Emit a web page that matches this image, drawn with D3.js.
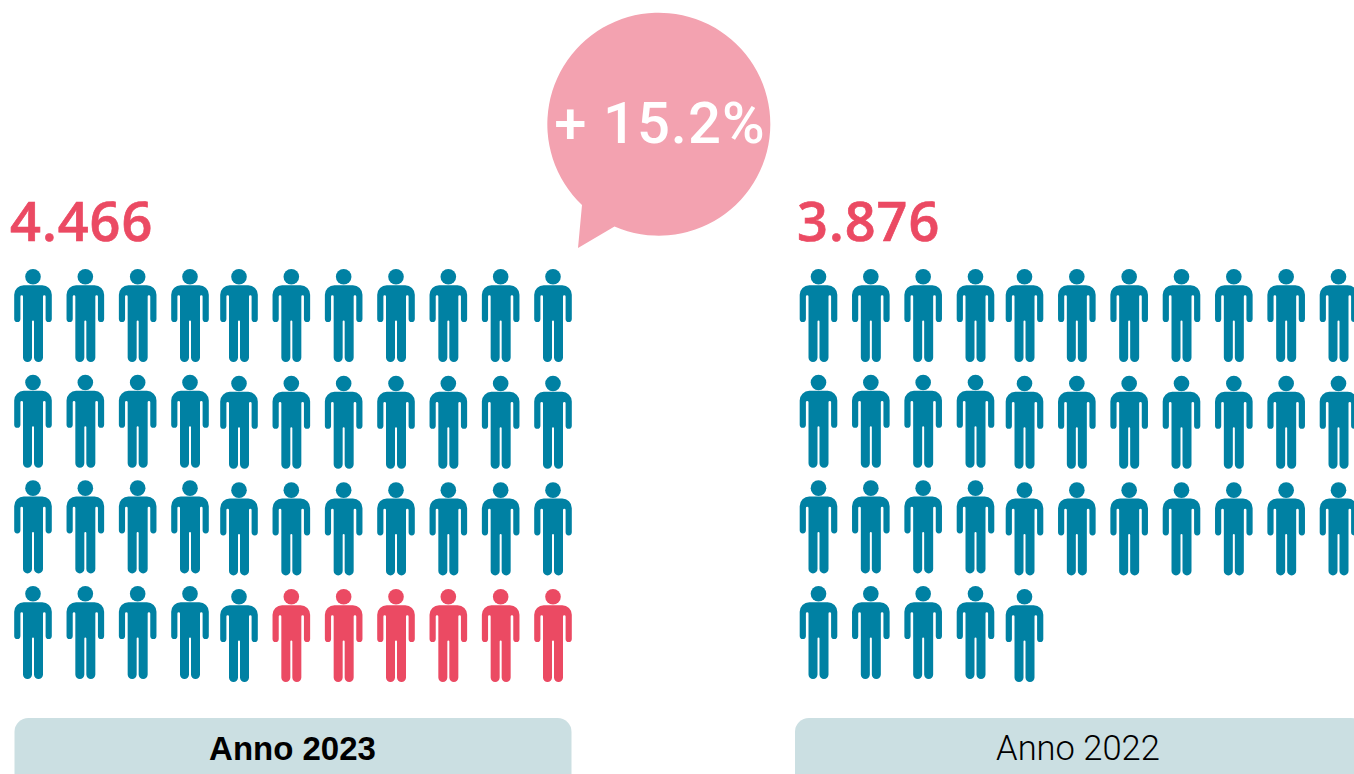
<!DOCTYPE html>
<html>
<head>
<meta charset="utf-8">
<script src="https://cdn.jsdelivr.net/npm/d3@7/dist/d3.min.js"></script>
<style>
  html, body { margin: 0; padding: 0; background: #fff; overflow: hidden; }
</style>
</head>
<body>
<svg id="chart" width="1354" height="774"></svg>
<script>
// each icon = 100 people, 11 per row
var years = ["Anno 2023", "Anno 2022"];
var totals = ["4.466", "3.876"];
var blueIcons = [38, 38];
var redIcons = [6, 0];
var delta = "+ 15.2%";

var perRow = 11;
var blue = "#0081a3";
var red = "#eb4a63";
var pink = "#f3a2b0";
var labelBg = "#cbdfe2";

var svg = d3.select("#chart");

// panels sit side by side, the second one runs off the page
var panelX = d3.scalePoint().domain(years).range([0, 785.5]);

// the first four columns and the last seven are spaced separately in the source
var xLeft = d3.scalePoint().domain(d3.range(4)).range([33, 190]);
var xRight = d3.scalePoint().domain(d3.range(4, perRow)).range([239, 553]);
var yLeft = d3.scalePoint().domain(d3.range(4)).range([0, 317]);
var yRight = d3.scalePoint().domain(d3.range(4)).range([0, 320]);

var personPath = [
  "M-9.2,-15.8 H9.2 A9.6,9.6 0 0 1 18.8,-6.2 V18",
  "A3.1,3.1 0 0 1 12.6,18 V-4.4 A1.3,1.3 0 0 0 10,-4.4 V56.6",
  "A4.5,4.5 0 0 1 1,56.6 V20.6 A1,1 0 0 0 -1,20.6 V56.6",
  "A4.5,4.5 0 0 1 -10,56.6 V-4.4 A1.3,1.3 0 0 0 -12.6,-4.4 V18",
  "A3.1,3.1 0 0 1 -18.8,18 V-6.2 A9.6,9.6 0 0 1 -9.2,-15.8 Z"
].join(" ");

function drawPerson(g, colour) {
  g.append("circle").attr("cx", 0).attr("cy", -24.2).attr("r", 7.8).attr("fill", colour);
  g.append("path").attr("d", personPath).attr("fill", colour);
}

var panels = svg.selectAll("g.panel")
  .data(years)
  .enter().append("g")
  .attr("class", "panel")
  .attr("transform", function(d) { return "translate(" + panelX(d) + ",0)"; });

panels.each(function(year, p) {
  var panel = d3.select(this);
  var count = blueIcons[p] + redIcons[p];

  panel.append("text")
    .attr("x", p === 0 ? 10 : 11.5)
    .attr("y", 241)
    .attr("font-family", "'Open Sans', sans-serif")
    .attr("font-weight", 600)
    .attr("font-size", 54)
    .attr("letter-spacing", 1)
    .attr("stroke", red)
    .attr("stroke-width", 0.7)
    .attr("fill", red)
    .text(totals[p]);

  d3.range(count).forEach(function(i) {
    var col = i % perRow;
    var row = Math.floor(i / perRow);
    var inLeft = col < 4;
    var x = inLeft ? xLeft(col) : xRight(col);
    var y = 301 + (inLeft ? yLeft(row) : yRight(row));
    var g = panel.append("g")
      .attr("class", "person")
      .attr("transform", "translate(" + x + "," + y + ")");
    drawPerson(g, i < blueIcons[p] ? blue : red);
  });

  panel.append("rect")
    .attr("x", p === 0 ? 14.5 : 9.5)
    .attr("y", 718)
    .attr("width", p === 0 ? 557 : 570)
    .attr("height", 80)
    .attr("rx", 14)
    .attr("fill", labelBg);

  panel.append("text")
    .attr("x", 292.5)
    .attr("y", 760)
    .attr("text-anchor", "middle")
    .attr("font-family", p === 0 ? "'Liberation Sans', sans-serif" : "Roboto, sans-serif")
    .attr("font-weight", p === 0 ? 700 : 300)
    .attr("font-size", p === 0 ? 33 : 34.5)
    .attr("fill", "#000")
    .text(year);
});

// speech bubble
svg.append("path")
  .attr("d", "M582,205 A111.5,111.5 0 1 1 614.5,226.5 L578,248 Z")
  .attr("fill", pink);

svg.append("text")
  .attr("x", 660)
  .attr("y", 143)
  .attr("text-anchor", "middle")
  .attr("font-family", "Roboto, sans-serif")
  .attr("font-weight", 500)
  .attr("font-size", 58)
  .attr("letter-spacing", 1)
  .attr("fill", "#fff")
  .text(delta);
</script>
</body>
</html>
